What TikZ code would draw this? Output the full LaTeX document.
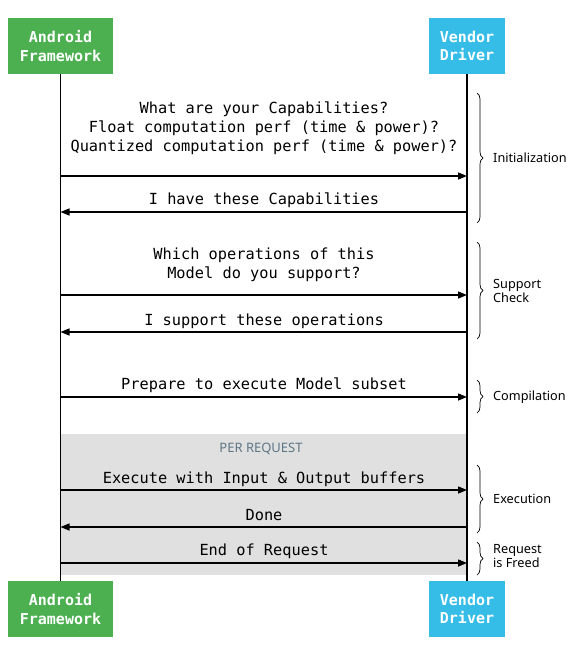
\documentclass[tikz,border=0pt]{standalone}
\usepackage{fontspec}
\setmonofont{DejaVu Sans Mono}
\setsansfont{Noto Sans}
\usetikzlibrary{arrows.meta,decorations.pathreplacing}

\definecolor{afgreen}{HTML}{4CAF50}
\definecolor{vdblue}{HTML}{35BDE8}
\definecolor{reqgray}{HTML}{E0E0E0}
\definecolor{reqtext}{HTML}{5D7685}

\tikzset{
  party/.style={minimum height=56pt, inner sep=0pt, text=white, align=center,
    font=\ttfamily\bfseries\fontsize{15}{18.7}\selectfont},
  msg/.style={line width=1.4pt, -{Triangle[length=9pt,width=7pt]}},
  msgtext/.style={inner sep=0pt, align=center, font=\ttfamily\fontsize{15.3}{19}\selectfont},
  phase/.style={decorate, decoration={brace, amplitude=6pt}, line width=0.7pt},
  phasetext/.style={anchor=west, inner sep=0pt, align=left, font=\sffamily\fontsize{12.7}{14.5}\selectfont}
}

\begin{document}
\begin{tikzpicture}[x=1pt,y=-1pt]
\useasboundingbox (0,0) rectangle (576,656);

% per request band
\fill[reqgray] (61,434) rectangle (467,575);
\node[inner sep=0pt, text=reqtext, font=\sffamily\fontsize{13}{15}\selectfont] (perreq) at (261,449) {PER REQUEST};

% parties
\node[party, fill=afgreen, minimum width=105pt] (aftop) at (60.5,46) {Android\\Framework};
\node[party, fill=vdblue, minimum width=76pt] (vdtop) at (467,46) {Vendor\\Driver};
\node[party, fill=afgreen, minimum width=105pt] (afbot) at (60.5,609) {Android\\Framework};
\node[party, fill=vdblue, minimum width=76pt] (vdbot) at (467,609) {Vendor\\Driver};

% lifelines
\draw[line width=1.6pt] (aftop) -- (afbot);
\draw[line width=1.6pt] (vdtop) -- (vdbot);

% messages
\node[msgtext] (caps) at (264,128) {What are your Capabilities?\\Float computation perf (time \& power)?\\Quantized computation perf (time \& power)?};
\draw[msg] (aftop |- 0,176) -- (vdtop |- 0,176);
\node[msgtext] (havecaps) at (264,200) {I have these Capabilities};
\draw[msg] (vdtop |- 0,212) -- (aftop |- 0,212);

\node[msgtext] (whichops) at (264,265) {Which operations of this\\Model do you support?};
\draw[msg] (aftop |- 0,295) -- (vdtop |- 0,295);
\node[msgtext] (supops) at (264,321) {I support these operations};
\draw[msg] (vdtop |- 0,332) -- (aftop |- 0,332);

\node[msgtext] (prepare) at (264,385) {Prepare to execute Model subset};
\draw[msg] (aftop |- 0,397) -- (vdtop |- 0,397);

\node[msgtext] (execute) at (264,479) {Execute with Input \& Output buffers};
\draw[msg] (aftop |- 0,490) -- (vdtop |- 0,490);
\node[msgtext] (done) at (264,515) {Done};
\draw[msg] (vdtop |- 0,527) -- (aftop |- 0,527);
\node[msgtext] (endreq) at (264,551) {End of Request};
\draw[msg] (aftop |- 0,563) -- (vdtop |- 0,563);

% phases
\draw[phase] (477,93) -- (477,223);
\node[phasetext] (init) at (493,158) {Initialization};
\draw[phase] (477,242) -- (477,339);
\node[phasetext] (check) at (493,291) {Support\\Check};
\draw[phase] (477,380) -- (477,413);
\node[phasetext] (compile) at (493,397) {Compilation};
\draw[phase] (477,465) -- (477,533);
\node[phasetext] (exec) at (493,499) {Execution};
\draw[phase] (477,542) -- (477,575);
\node[phasetext] (freed) at (493,556) {Request\\is Freed};
\end{tikzpicture}
\end{document}
